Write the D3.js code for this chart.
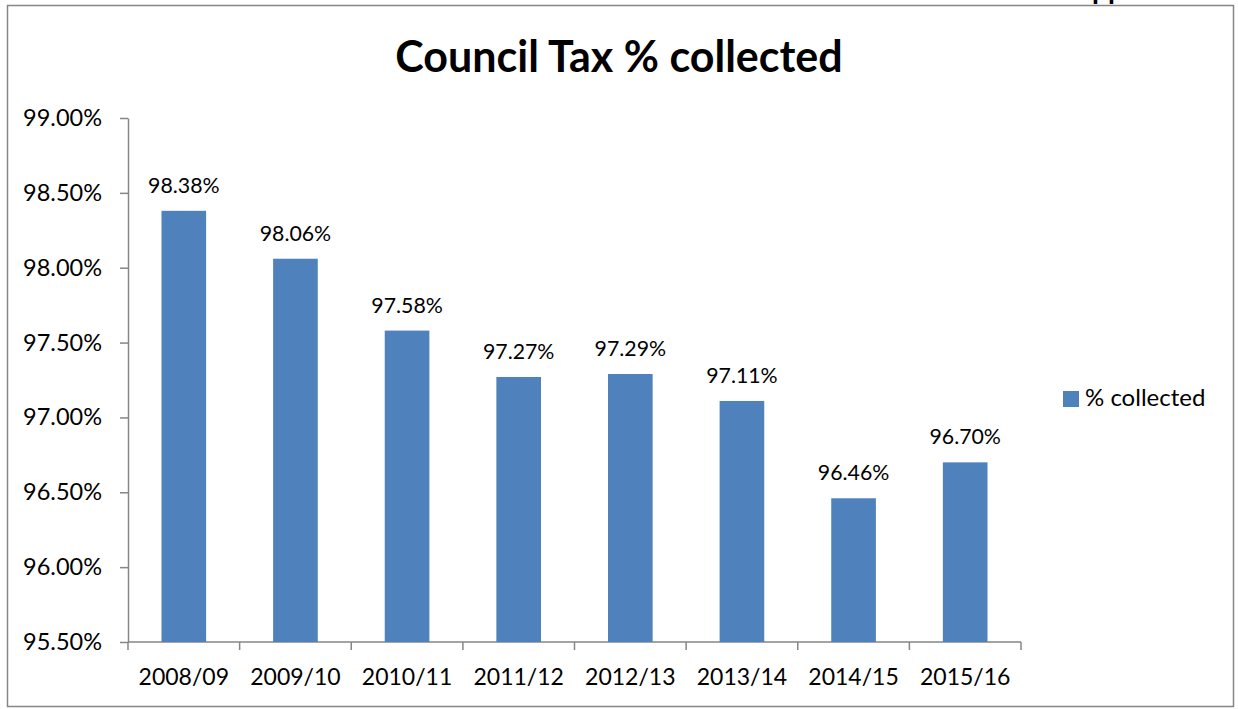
<!DOCTYPE html>
<html><head><meta charset="utf-8">
<script src="https://cdn.jsdelivr.net/npm/d3@7"></script>
<style>body{margin:0;background:#fff;}svg{display:block;font-family:Lato,"Open Sans",sans-serif;}</style>
</head><body><svg id="c" width="1238" height="709"></svg>
<script>
const categories = ["2008/09","2009/10","2010/11","2011/12","2012/13","2013/14","2014/15","2015/16"];
const values = [98.38,98.06,97.58,97.27,97.29,97.11,96.46,96.70];
const yTicks = [95.5,96.0,96.5,97.0,97.5,98.0,98.5,99.0];
const seriesName = "% collected";
const title = "Council Tax % collected";

const svg = d3.select("#c");
const axisColor = "#868686";
const barColor = "#4f81bd";
const L = 128, R = 1021, T = 118, B = 642;

svg.append("rect").attr("x",7.5).attr("y",5.5).attr("width",1226).attr("height",701).attr("fill","none").attr("stroke",axisColor).attr("stroke-width",1.5);
svg.append("text").attr("x",1092).attr("y",-1).attr("font-weight","bold").attr("font-size",28).text("pp");

svg.append("text").attr("x",619).attr("y",72).attr("text-anchor","middle").attr("font-weight","bold").attr("font-size",43).attr("fill","#000").text(title);

const x = d3.scaleBand().domain(categories).range([L,R]).paddingInner(0.6).paddingOuter(0.3);
const y = d3.scaleLinear().domain([95.5,99]).range([B,T]);

const band = (R-L)/categories.length;
// y axis
const ya = svg.append("g").attr("transform",`translate(${L},0)`)
  .call(d3.axisLeft(y).tickValues(yTicks).tickSize(8).tickSizeOuter(0).tickFormat(d=>d.toFixed(2)+"%"));
ya.select(".domain").attr("stroke",axisColor).attr("stroke-width",1.5);
ya.selectAll(".tick line").attr("stroke",axisColor).attr("stroke-width",1.5);
ya.selectAll(".tick text").attr("font-size",23.5).attr("fill","#000").attr("x",-26).attr("font-family","Lato");

// x axis
const xg = svg.append("g");
xg.append("line").attr("x1",L).attr("x2",R).attr("y1",B).attr("y2",B).attr("stroke",axisColor).attr("stroke-width",1.5);
d3.range(categories.length+1).forEach(i=>{
  xg.append("line").attr("x1",L+i*band).attr("x2",L+i*band).attr("y1",B).attr("y2",B+8).attr("stroke",axisColor).attr("stroke-width",1.5);
});
xg.selectAll("text.cat").data(categories).join("text").attr("class","cat")
  .attr("x",d=>x(d)+x.bandwidth()/2).attr("y",685).attr("text-anchor","middle").attr("font-size",23).text(d=>d);

svg.selectAll("rect.bar").data(values).join("rect").attr("class","bar")
  .attr("x",(d,i)=>x(categories[i])).attr("width",x.bandwidth())
  .attr("y",d=>y(d)).attr("height",d=>B-y(d)).attr("fill",barColor);

svg.selectAll("text.lbl").data(values).join("text").attr("class","lbl")
  .attr("x",(d,i)=>x(categories[i])+x.bandwidth()/2).attr("y",d=>y(d)-18)
  .attr("text-anchor","middle").attr("font-size",21.3).text(d=>d.toFixed(2)+"%");

// legend
svg.append("rect").attr("x",1063).attr("y",391).attr("width",16).attr("height",16).attr("fill",barColor);
svg.append("text").attr("x",1085).attr("y",406).attr("font-size",24).text(seriesName);
</script></body></html>
